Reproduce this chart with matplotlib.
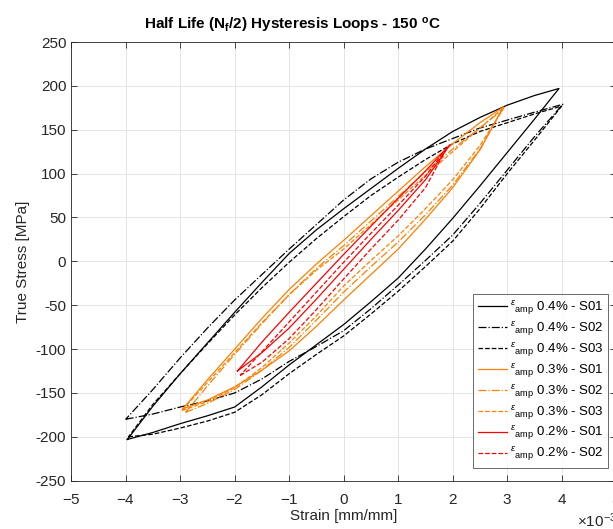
import numpy as np
import matplotlib
matplotlib.use("Agg")
import matplotlib.pyplot as plt

plt.rcParams['font.family'] = ['Liberation Sans', 'DejaVu Sans']
plt.rcParams['mathtext.fontset'] = 'custom'
plt.rcParams['mathtext.rm'] = 'Liberation Sans'
plt.rcParams['mathtext.it'] = 'Liberation Sans:italic'
plt.rcParams['mathtext.bf'] = 'Liberation Sans:bold'
plt.rcParams['axes.unicode_minus'] = False

# strain values in units of 1e-3 mm/mm, stress in MPa
# 0.4 % loops
x04_s01 = [-3.97, -3.5, -3.0, -2.5, -2.0, -1.5, -1.0, -0.5, 0.0, 0.5, 1.0, 1.5, 2.0, 2.5, 3.0, 3.5, 3.95]
up04_s01 = [-203, -165, -128, -93, -58, -24, 9, 36, 60, 83, 106, 128, 148, 164, 178, 189, 197]
lo04_s01 = [-203, -195, -185, -176, -166, -143, -118, -95, -72, -46, -19, 14, 49, 86, 124, 162, 197]

x04_s02 = [-4.0, -3.5, -3.0, -2.5, -2.0, -1.5, -1.0, -0.5, 0.0, 0.5, 1.0, 1.5, 2.0, 2.5, 3.0, 3.5, 4.02]
up04_s02 = [-180, -146, -110, -76, -44, -15, 14, 42, 70, 94, 113, 128, 140, 152, 161, 170, 179]
lo04_s02 = [-180, -174, -166, -159, -150, -134, -114, -97, -79, -54, -27, 1, 30, 66, 104, 142, 179]

x04_s03 = [-3.95, -3.5, -3.0, -2.5, -2.0, -1.5, -1.0, -0.5, 0.0, 0.5, 1.0, 1.5, 2.0, 2.5, 3.0, 3.5, 4.0]
up04_s03 = [-200, -163, -128, -94, -61, -30, -1, 26, 51, 75, 96, 116, 134, 148, 158, 168, 177]
lo04_s03 = [-200, -197, -190, -182, -172, -152, -128, -106, -85, -60, -34, -6, 23, 60, 100, 138, 177]

# 0.3 % loops
x03_s01 = [-2.95, -2.5, -2.0, -1.5, -1.0, -0.5, 0.0, 0.5, 1.0, 1.5, 2.0, 2.5, 2.93]
up03_s01 = [-168, -135, -100, -65, -32, -3, 24, 52, 80, 108, 134, 158, 176]
lo03_s01 = [-168, -158, -143, -124, -102, -74, -44, -15, 14, 48, 84, 127, 176]

x03_s02 = [-2.9, -2.5, -2.0, -1.5, -1.0, -0.5, 0.0, 0.5, 1.0, 1.5, 2.0, 2.5, 2.9]
up03_s02 = [-172, -142, -106, -71, -38, -8, 18, 46, 74, 102, 128, 152, 172]
lo03_s02 = [-172, -162, -146, -124, -98, -67, -35, -6, 22, 53, 87, 128, 172]

x03_s03 = [-2.97, -2.5, -2.0, -1.5, -1.0, -0.5, 0.0, 0.5, 1.0, 1.5, 2.0, 2.5, 2.95]
up03_s03 = [-170, -138, -104, -70, -38, -10, 14, 42, 70, 98, 125, 152, 176]
lo03_s03 = [-170, -160, -144, -121, -93, -62, -28, 1, 29, 60, 93, 132, 176]

# 0.2 % loops
x02_s01 = [-1.95, -1.5, -1.0, -0.5, 0.0, 0.5, 1.0, 1.5, 1.95]
up02_s01 = [-125, -92, -58, -25, 8, 40, 72, 103, 133]
lo02_s01 = [-125, -104, -76, -43, -9, 25, 58, 93, 133]

x02_s02 = [-1.9, -1.5, -1.0, -0.5, 0.0, 0.5, 1.0, 1.5, 1.9]
up02_s02 = [-130, -103, -69, -35, -1, 32, 64, 97, 130]
lo02_s02 = [-130, -115, -88, -55, -20, 14, 47, 84, 130]

eps = u'$^{\u03b5}$$_{\\mathrm{amp}}$'
labels = [eps + ' 0.4% - S01', eps + ' 0.4% - S02', eps + ' 0.4% - S03',
          eps + ' 0.3% - S01', eps + ' 0.3% - S02', eps + ' 0.3% - S03',
          eps + ' 0.2% - S01', eps + ' 0.2% - S02']

loops = [(x04_s01, up04_s01, lo04_s01), (x04_s02, up04_s02, lo04_s02), (x04_s03, up04_s03, lo04_s03),
         (x03_s01, up03_s01, lo03_s01), (x03_s02, up03_s02, lo03_s02), (x03_s03, up03_s03, lo03_s03),
         (x02_s01, up02_s01, lo02_s01), (x02_s02, up02_s02, lo02_s02)]
colors = ['black', 'black', 'black', '#FF8000', '#FF8000', '#FF8000', 'red', 'red']
styles = ['-', '-.', '--', '-', '-.', '--', '-', '--']

fig = plt.figure(figsize=(6.13, 5.29), dpi=100)
ax = fig.add_axes([71.2 / 613, 48.3 / 529, 545 / 613, 438.7 / 529])

for (xs, up, lo), c, ls, lab in zip(loops, colors, styles, labels):
    xs = np.array(xs) * 1e-3
    # loading branch left->right, then unloading branch right->left
    xx = np.concatenate([xs, xs[::-1]])
    yy = np.concatenate([np.array(lo), np.array(up)[::-1]])
    ax.plot(xx, yy, color=c, linestyle=ls, linewidth=0.9, label=lab)

ax.set_xlim(-5e-3, 5e-3)
ax.set_ylim(-250, 250)
ax.set_xticks(np.arange(-5, 6) * 1e-3)
ax.set_yticks(np.arange(-250, 251, 50))
ax.ticklabel_format(axis='x', style='sci', scilimits=(0, 0), useMathText=True)
ax.xaxis.get_offset_text().set_fontsize(11)
ax.grid(True, color='#E0E0E0', linewidth=0.6)
ax.set_axisbelow(True)
ax.tick_params(direction='in', length=4, width=0.6, top=True, right=True,
               labelsize=11, colors='#262626')
ax.tick_params(axis='x', pad=9)
for s in ax.spines.values():
    s.set_color('#262626')
    s.set_linewidth(0.6)

ax.set_xlabel('Strain [mm/mm]', fontsize=11, color='#262626', labelpad=1)
ax.set_ylabel('True Stress [MPa]', fontsize=11, color='#262626', labelpad=4)
ax.set_title(r'Half Life (N$_{\mathbf{f}}$/2) Hysteresis Loops - 150 $^{\mathbf{o}}$C',
             fontsize=11, fontweight='bold', x=(292 - 71.2) / 545, pad=9)

leg = ax.legend(loc='lower right', bbox_to_anchor=(608 / 613, 61 / 529),
                bbox_transform=fig.transFigure, fontsize=9.5, frameon=True,
                fancybox=False, handlelength=2.2, labelspacing=0.22,
                borderaxespad=0, handletextpad=0.2, borderpad=0.35)
leg.get_frame().set_edgecolor('#262626')
leg.get_frame().set_linewidth(0.6)

fig.savefig('out.png', dpi=100)
